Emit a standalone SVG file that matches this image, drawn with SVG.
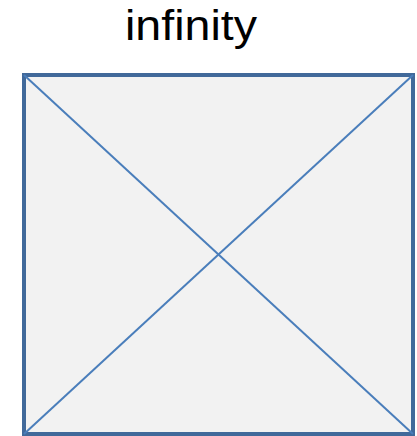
<svg xmlns="http://www.w3.org/2000/svg" width="417" height="436" viewBox="0 0 417 436">
<style>
.lbl{font-family:"Liberation Sans",Arial,sans-serif;font-size:42px;fill:#000}
.box{fill:#f2f2f2;stroke:#41699a;stroke-width:4}
.diag{stroke:#4a7ebb;stroke-width:2;fill:none}
</style>
<rect width="417" height="436" fill="#fff"/>
<g id="node-infinity">
<rect class="box" x="24" y="75" width="389" height="359"/>
<text class="lbl" x="191" y="40" text-anchor="middle" textLength="132" lengthAdjust="spacingAndGlyphs">infinity</text>
</g>
<g id="connectors">
<line class="diag" x1="24" y1="75" x2="413" y2="434"/>
<line class="diag" x1="413" y1="75" x2="24" y2="434"/>
</g>
</svg>
